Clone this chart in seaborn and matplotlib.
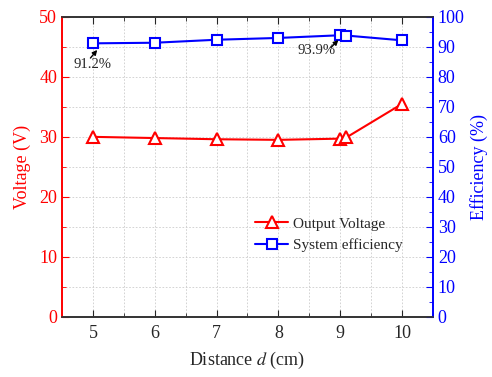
import matplotlib
matplotlib.use("Agg")
import matplotlib.pyplot as plt
import seaborn as sns
import pandas as pd
from matplotlib.ticker import MultipleLocator

distance = [5, 6, 7, 8, 9, 9.1, 10]
voltage = [30.0, 29.8, 29.6, 29.5, 29.7, 29.9, 35.5]
efficiency = [91.2, 91.4, 92.4, 93.0, 93.9, 93.8, 92.2]

sns.set_style("white")
plt.rcParams['font.family'] = ['Liberation Serif', 'DejaVu Serif']
plt.rcParams['mathtext.fontset'] = 'stix'

df = pd.DataFrame({"d": distance, "V": voltage, "E": efficiency})

fig, ax = plt.subplots(figsize=(4.92, 3.77), dpi=100)
fig.subplots_adjust(left=0.126, right=0.88, top=0.955, bottom=0.16)
ax2 = ax.twinx()

red = "#ff0000"
blue = "#0000ff"

sns.lineplot(data=df, x="d", y="V", ax=ax, color=red, marker="^", markersize=9,
             markerfacecolor="white", markeredgecolor=red, markeredgewidth=1.5,
             linewidth=1.5, label="Output Voltage", legend=False)
sns.lineplot(data=df, x="d", y="E", ax=ax2, color=blue, marker="s", markersize=7,
             markerfacecolor="white", markeredgecolor=blue, markeredgewidth=1.5,
             linewidth=1.5, label="System efficiency", legend=False)

ax.set_xlim(4.5, 10.5)
ax.set_ylim(0, 50)
ax2.set_ylim(0, 100)
ax.xaxis.set_major_locator(MultipleLocator(1))
ax.xaxis.set_minor_locator(MultipleLocator(0.5))
ax.yaxis.set_major_locator(MultipleLocator(10))
ax.yaxis.set_minor_locator(MultipleLocator(5))
ax2.yaxis.set_major_locator(MultipleLocator(10))
ax2.yaxis.set_minor_locator(MultipleLocator(5))

ax.grid(True, which="both", color="#cccccc", linestyle=(0, (2, 2)), linewidth=0.6)
ax2.grid(False)

ax.set_xlabel("Distance $\\it{d}$ (cm)", fontsize=13, labelpad=6)
ax.set_ylabel("Voltage (V)", fontsize=13, color=red, labelpad=6)
ax2.set_ylabel("Efficiency (%)", fontsize=13, color=blue)

ax.tick_params(axis="x", which="both", direction="in", top=True, bottom=True, labelsize=13)
ax.tick_params(axis="x", which="major", length=5, pad=6)
ax.tick_params(axis="x", which="minor", length=3)
ax.tick_params(axis="y", which="both", direction="in", colors=red, labelsize=13)
ax.tick_params(axis="y", which="major", length=5)
ax.tick_params(axis="y", which="minor", length=3)
ax2.tick_params(axis="y", which="both", direction="in", colors=blue, labelsize=13)
ax2.tick_params(axis="y", which="major", length=5)
ax2.tick_params(axis="y", which="minor", length=3)

for a in (ax, ax2):
    a.spines["left"].set_color(red)
    a.spines["right"].set_color(blue)
    a.spines["top"].set_color("#333333")
    a.spines["bottom"].set_color("#333333")
    for s in a.spines.values():
        s.set_linewidth(1.2)

ax2.text(4.99, 84.0, "91.2%", fontsize=10.5, ha="center", va="center")
ax2.annotate("", xy=(5.07, 89.0), xytext=(4.96, 86.3),
             arrowprops=dict(arrowstyle="-|>", color="black", lw=1, mutation_scale=7,
                             shrinkA=0, shrinkB=0))
ax2.text(8.62, 88.8, "93.9%", fontsize=10.5, ha="center", va="center")
ax2.annotate("", xy=(8.97, 92.3), xytext=(8.85, 89.8),
             arrowprops=dict(arrowstyle="-|>", color="black", lw=1, mutation_scale=7,
                             shrinkA=0, shrinkB=0))

h1, l1 = ax.get_legend_handles_labels()
h2, l2 = ax2.get_legend_handles_labels()
leg = ax.legend(h1 + h2, l1 + l2, loc="lower right", bbox_to_anchor=(0.955, 0.17),
                frameon=False, fontsize=11, handlelength=2.2, handletextpad=0.3,
                labelspacing=0.5)

fig.savefig("out.png", dpi=100)
